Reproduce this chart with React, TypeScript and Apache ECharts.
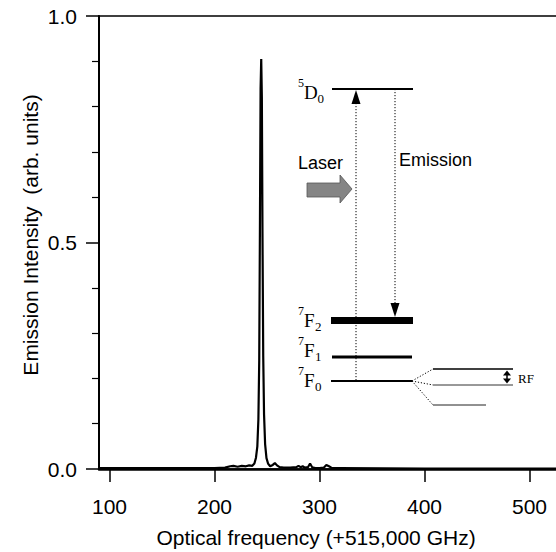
import React, { useEffect, useRef } from "react";
import * as echarts from "echarts";

const freq = [90, 150, 200, 210, 215, 218, 222, 226, 230, 233, 236, 238, 239.5, 240.8, 241.8, 242.6, 243.3, 243.9, 244.5, 245.1, 245.7, 246.4, 247.2, 248.2, 249.5, 251, 253, 255.5, 257.5, 259.5, 262, 266, 272, 278, 280, 282, 284, 286, 289, 291, 293, 296, 300, 304, 306.5, 309, 312, 320, 400, 540];
const intensity = [0.002, 0.002, 0.002, 0.003, 0.006, 0.007, 0.005, 0.007, 0.006, 0.008, 0.007, 0.012, 0.025, 0.05, 0.11, 0.24, 0.55, 0.84, 0.905, 0.82, 0.52, 0.25, 0.12, 0.055, 0.024, 0.012, 0.006, 0.009, 0.013, 0.008, 0.004, 0.003, 0.003, 0.004, 0.007, 0.004, 0.006, 0.003, 0.004, 0.012, 0.004, 0.002, 0.002, 0.003, 0.009, 0.006, 0.002, 0.002, 0.001, 0.001];
const xTicks = [100, 200, 300, 400, 500];

const SANS = "'Liberation Sans', Arial, sans-serif";
const SERIF = "'Liberation Serif', 'Times New Roman', serif";

function levelText(x: number, y: number, sup: string, main: string, sub: string, mainW: number) {
  return [
    { type: "text", x: x, y: y - 9, style: { text: sup, font: `12px ${SERIF}`, fill: "#000", textAlign: "left", textVerticalAlign: "middle" } },
    { type: "text", x: x + 6, y: y, style: { text: main, font: `19px ${SERIF}`, fill: "#000", textAlign: "left", textVerticalAlign: "middle" } },
    { type: "text", x: x + 6 + mainW, y: y + 6, style: { text: sub, font: `13px ${SERIF}`, fill: "#000", textAlign: "left", textVerticalAlign: "middle" } },
  ];
}

export default function App() {
  const ref = useRef<HTMLDivElement>(null);
  useEffect(() => {
    if (!ref.current) return;
    const chart = echarts.init(ref.current, null, { renderer: "svg" });
    const dotted = { stroke: "#000", lineWidth: 1, lineDash: [1.2, 1.8] };
    const solid = (w: number) => ({ stroke: "#000", lineWidth: w });
    chart.setOption({
      animation: false,
      backgroundColor: "#fff",
      grid: { left: 99, top: 16, width: 472.5, height: 453, outerBoundsMode: "none", containLabel: false, show: true, borderColor: "#000", borderWidth: 1.5, backgroundColor: "transparent" },
      xAxis: {
        type: "value",
        min: 90,
        max: 540,
        axisLine: { show: true, lineStyle: { color: "#000", width: 2.5 } },
        axisTick: { show: true, customValues: xTicks, length: 13, lineStyle: { color: "#000", width: 1.5 } },
        axisLabel: { customValues: xTicks, fontSize: 21, color: "#000", margin: 27, fontFamily: SANS },
        splitLine: { show: false },
      },
      yAxis: {
        type: "value",
        min: 0,
        max: 1,
        interval: 0.5,
        axisLine: { show: true, lineStyle: { color: "#000", width: 2 } },
        axisTick: { show: true, length: 13, lineStyle: { color: "#000", width: 1.5 } },
        minorTick: { show: true, splitNumber: 5, length: 7, lineStyle: { color: "#000", width: 1.2 } },
        axisLabel: { fontSize: 21, color: "#000", margin: 22, fontFamily: SANS, formatter: (v: number) => v.toFixed(1) },
        splitLine: { show: false },
        minorSplitLine: { show: false },
      },
      series: [
        {
          type: "line",
          data: freq.map((f, i) => [f, intensity[i]]),
          showSymbol: false,
          symbol: "none",
          lineStyle: { color: "#000", width: 2.2 },
          z: 3,
        },
      ],
      graphic: [
        { type: "text", x: 316, y: 537, style: { text: "Optical frequency (+515,000 GHz)", font: `21px ${SANS}`, fill: "#000", textAlign: "center", textVerticalAlign: "middle" } },
        { type: "text", x: 30, y: 235, rotation: Math.PI / 2, style: { text: "Emission Intensity  (arb. units)", font: `21px ${SANS}`, fill: "#000", textAlign: "center", textVerticalAlign: "middle" } },
        // levels
        { type: "line", shape: { x1: 332, y1: 89, x2: 413, y2: 89 }, style: solid(2) },
        { type: "rect", shape: { x: 331, y: 317, width: 82, height: 7 }, style: { fill: "#000" } },
        { type: "line", shape: { x1: 332, y1: 357, x2: 412, y2: 357 }, style: solid(3) },
        { type: "line", shape: { x1: 331, y1: 381, x2: 412, y2: 381 }, style: solid(2) },
        // laser excitation
        { type: "line", shape: { x1: 356, y1: 103, x2: 356, y2: 381 }, style: dotted },
        { type: "polygon", shape: { points: [[356, 90], [351.5, 104], [360.5, 104]] }, style: { fill: "#000" } },
        // emission
        { type: "line", shape: { x1: 395, y1: 89, x2: 395, y2: 304 }, style: dotted },
        { type: "polygon", shape: { points: [[390.5, 303], [399.5, 303], [395, 317]] }, style: { fill: "#000" } },
        // splitting
        { type: "line", shape: { x1: 412, y1: 381, x2: 433, y2: 369 }, style: dotted },
        { type: "line", shape: { x1: 412, y1: 381, x2: 433, y2: 385 }, style: dotted },
        { type: "line", shape: { x1: 412, y1: 381, x2: 433, y2: 405 }, style: dotted },
        { type: "line", shape: { x1: 433, y1: 369, x2: 513, y2: 369 }, style: solid(1.5) },
        { type: "line", shape: { x1: 433, y1: 385, x2: 513, y2: 385 }, style: { stroke: "#333", lineWidth: 1 } },
        { type: "line", shape: { x1: 433, y1: 405, x2: 486, y2: 405 }, style: { stroke: "#222", lineWidth: 1 } },
        // RF double arrow
        { type: "line", shape: { x1: 507, y1: 373, x2: 507, y2: 381 }, style: solid(1.5) },
        { type: "polygon", shape: { points: [[507, 370.5], [503, 375.5], [511, 375.5]] }, style: { fill: "#000" } },
        { type: "polygon", shape: { points: [[507, 383.5], [503, 378.5], [511, 378.5]] }, style: { fill: "#000" } },
        { type: "text", x: 518, y: 378, style: { text: "RF", font: `13px ${SERIF}`, fill: "#000", textAlign: "left", textVerticalAlign: "middle" } },
        // laser block arrow
        { type: "polygon", shape: { points: [[307, 183], [340, 183], [340, 175], [352, 189], [340, 203], [340, 197], [307, 197]] }, style: { fill: "#858585", stroke: "#555", lineWidth: 0.8 } },
        { type: "text", x: 298, y: 163, style: { text: "Laser", font: `18px ${SANS}`, fill: "#000", textAlign: "left", textVerticalAlign: "middle" } },
        { type: "text", x: 399, y: 160, style: { text: "Emission", font: `18px ${SANS}`, fill: "#000", textAlign: "left", textVerticalAlign: "middle" } },
        ...levelText(298, 92, "5", "D", "0", 13.5),
        ...levelText(298, 320, "7", "F", "2", 11),
        ...levelText(298, 350, "7", "F", "1", 11),
        ...levelText(298, 380, "7", "F", "0", 11),
      ],
    });
    return () => chart.dispose();
  }, []);
  return <div ref={ref} style={{ position: "fixed", left: 0, top: 0, width: 556, height: 552 }} />;
}
